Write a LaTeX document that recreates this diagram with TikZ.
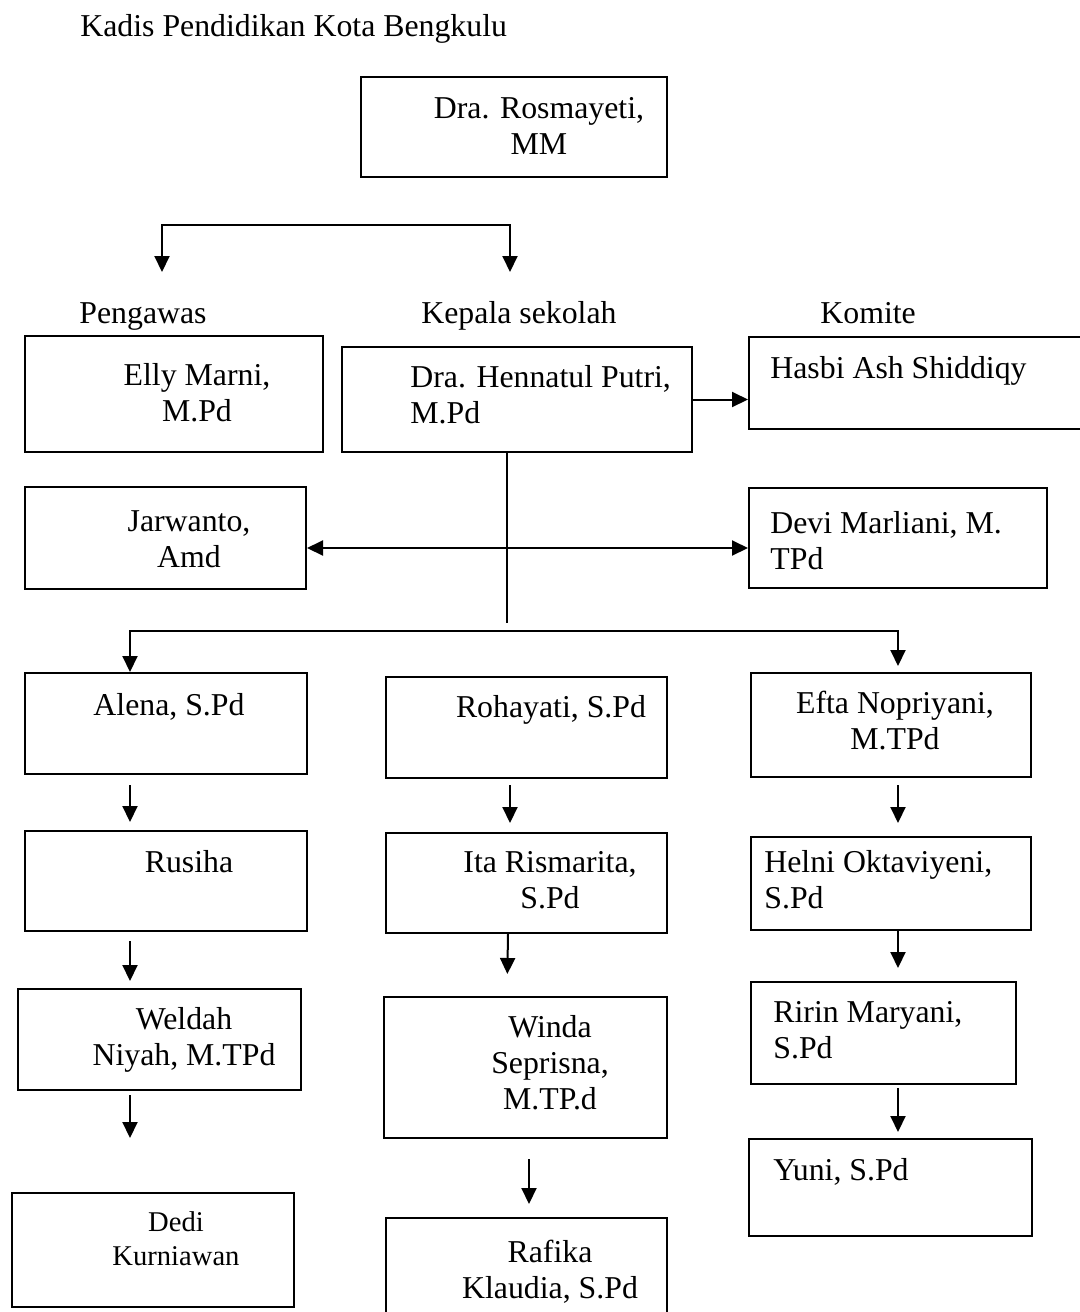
\documentclass[tikz,border=0pt]{standalone}
\usepackage{fontspec}
\setmainfont{Liberation Serif}
\usetikzlibrary{calc, positioning, arrows.meta, fit}

\begin{document}
\begin{tikzpicture}[
    x=0.5pt, y=-0.5pt,
    box/.style={draw, line width=1pt, inner sep=0pt},
    txt/.style={inner sep=0pt, align=center, anchor=base,
      font=\fontsize{15.9}{18}\selectfont},
    txl/.style={txt, align=left, anchor=base west},
    ln/.style={line width=1pt},
    arr/.style={ln, -{Triangle[length=8pt, width=7.5pt]}},
    both/.style={ln, {Triangle[length=8pt, width=7.5pt]}-{Triangle[length=8pt, width=7.5pt]}},
    gap/.style 2 args={shorten <=#1, shorten >=#2},
  ]
    \useasboundingbox (0,0) rectangle (1080,1312);

    % kepala dinas
    \node[txl] (kadis) at (80,36) {Kadis Pendidikan Kota Bengkulu};
    \node[box, fit={(361,77) (667,177)}] (ros) {};
    \node[txt] (rosT) at (539,154) {Dra. Rosmayeti,\\MM};

    \coordinate (pgw) at (162,272);
    \coordinate (kps) at (510,272);
    \draw[both] (pgw) |- ($(kps)+(0,-47)$) -- (kps);

    \node[txl] (pgwT) at (79,323) {Pengawas};
    \node[txl] (kpsT) at (421,323) {Kepala sekolah};
    \node[txl] (kmtT) at (820,323) {Komite};

    % baris kepala sekolah
    \node[box, fit={(25,336) (323,452)}] (elly) {};
    \node[txt] (ellyT) at (197,421) {Elly Marni,\\M.Pd};
    \node[box, fit={(342,347) (692,452)}] (hen) {};
    \node[txl] (henT) at (410,423) {Dra. Hennatul Putri,\\M.Pd};
    \node[box, fit={(749,337) (1095,429)}] (hasbi) {};
    \node[txl] (hasbiT) at (770,378) {Hasbi Ash Shiddiqy};
    \draw[arr] (hen.east) -- (hen.east -| hasbi.west);

    \node[box, fit={(25,487) (306,589)}] (jar) {};
    \node[txt] (jarT) at (189,567) {Jarwanto,\\Amd};
    \node[box, fit={(749,488) (1047,588)}] (devi) {};
    \node[txl] (deviT) at (770,569) {Devi Marliani, M.\\TPd};

    \coordinate (trunk) at (507,623);
    \draw[ln] (hen.south -| trunk) -- (trunk);
    \draw[both] ([yshift=-5pt]jar.east) -- ([yshift=-5pt]devi.west);

    % guru
    \coordinate (c1) at (130,631);
    \coordinate (c2) at (510,631);
    \coordinate (c3) at (898,631);

    \node[box, fit={(25,673) (307,774)}] (alena) {};
    \node[txt] (alenaT) at (169,715) {Alena, S.Pd};
    \node[box, fit={(25,831) (307,931)}] (rusiha) {};
    \node[txt] (rusihaT) at (189,872) {Rusiha};
    \node[box, fit={(18,989) (301,1090)}] (weldah) {};
    \node[txt] (weldahT) at (184,1065) {Weldah\\Niyah, M.TPd};
    \node[box, fit={(12,1193) (294,1307)}] (dedi) {};
    \node[txt, font=\fontsize{14.3}{17}\selectfont] (dediT) at (176,1265) {Dedi\\Kurniawan};

    \node[box, fit={(386,677) (667,778)}] (roh) {};
    \node[txt] (rohT) at (551,717) {Rohayati, S.Pd};
    \node[box, fit={(386,833) (667,933)}] (ita) {};
    \node[txt] (itaT) at (550,908) {Ita Rismarita,\\S.Pd};
    \node[box, fit={(384,997) (667,1138)}] (winda) {};
    \node[txt] (windaT) at (550,1109) {Winda\\Seprisna,\\M.TP.d};
    \node[box, fit={(386,1218) (667,1330)}] (rafika) {};
    \node[txt] (rafikaT) at (550,1298) {Rafika\\Klaudia, S.Pd};

    \node[box, fit={(751,673) (1031,777)}] (efta) {};
    \node[txt] (eftaT) at (895,749) {Efta Nopriyani,\\M.TPd};
    \node[box, fit={(751,837) (1031,930)}] (helni) {};
    \node[txl] (helniT) at (764,908) {Helni Oktaviyeni,\\S.Pd};
    \node[box, fit={(751,982) (1016,1084)}] (ririn) {};
    \node[txl] (ririnT) at (773,1058) {Ririn Maryani,\\S.Pd};
    \node[box, fit={(749,1139) (1032,1236)}] (yuni) {};
    \node[txl] (yuniT) at (773,1180) {Yuni, S.Pd};

    \draw[both, gap={0pt}{3pt}] (alena.north -| c1) |- (c3) -- (efta.north -| c3);

    \draw[arr, gap={5pt}{4pt}] (alena.south -| c1) -- (rusiha.north -| c1);
    \draw[arr, gap={4.5pt}{3.5pt}] (rusiha.south -| c1) -- (weldah.north -| c1);
    \draw[arr, gap={2pt}{27pt}] (weldah.south -| c1) -- (dedi.north -| c1);

    \draw[arr, gap={3pt}{4.5pt}] (roh.south -| c2) -- (ita.north -| c2);
    \draw[arr, gap={0pt}{11pt}] ([xshift=-1pt]ita.south -| c2) -- ([xshift=-1.5pt]winda.north -| c2);
    \draw[arr, gap={10pt}{6.5pt}] ([xshift=9.5pt]winda.south -| c2) -- ([xshift=9.5pt]rafika.north -| c2);

    \draw[arr, gap={3.5pt}{6.5pt}] (efta.south -| c3) -- (helni.north -| c3);
    \draw[arr, gap={0pt}{6.5pt}] (helni.south -| c3) -- (ririn.north -| c3);
    \draw[arr, gap={1.5pt}{3pt}] (ririn.south -| c3) -- (yuni.north -| c3);
  \end{tikzpicture}
\end{document}
